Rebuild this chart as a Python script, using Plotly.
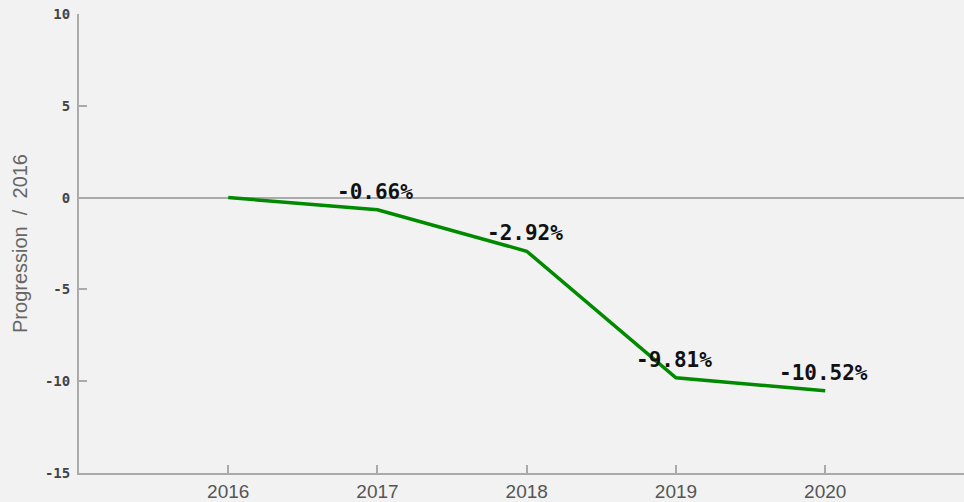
import plotly.graph_objects as go

years = [2016, 2017, 2018, 2019, 2020]
progression = [0.0, -0.66, -2.92, -9.81, -10.52]
labels = ["", "-0.66%", "-2.92%", "-9.81%", "-10.52%"]
y_ticks = [10, 5, 0, -5, -10, -15]
x_ticks = [2016, 2017, 2018, 2019, 2020]

fig = go.Figure()
fig.add_trace(go.Scatter(
    x=years, y=progression, mode="lines",
    line=dict(color="#008a00", width=3.5),
    hoverinfo="skip", showlegend=False,
))

for x, y, t in zip(years, progression, labels):
    if t:
        fig.add_annotation(x=x, y=y, text="<b>" + t + "</b>", showarrow=False,
                           yshift=18, xshift=-2,
                           font=dict(family="DejaVu Sans Mono", size=21, color="#111111"))

fig.update_layout(
    width=964, height=502,
    margin=dict(l=79, r=0, t=14, b=29, autoexpand=False),
    paper_bgcolor="#f2f2f2", plot_bgcolor="#f2f2f2",
    showlegend=False,
    xaxis=dict(
        range=[2015, 2020.93], tickvals=x_ticks, ticktext=[str(v) for v in x_ticks],
        showgrid=False, zeroline=False, showline=True, linecolor="#aaaaaa", linewidth=2,
        ticks="inside", ticklen=8, tickcolor="#aaaaaa", tickwidth=1.5,
        tickfont=dict(family="Liberation Sans", size=19, color="#555555"),
        ticklabeloverflow="allow",
        automargin=False,
    ),
    yaxis=dict(
        range=[-15, 10], tickvals=y_ticks, ticktext=[str(v) for v in y_ticks],
        showgrid=False, zeroline=True, zerolinecolor="#aaaaaa", zerolinewidth=1.5,
        showline=True, linecolor="#aaaaaa", linewidth=2,
        ticks="inside", ticklen=8, tickcolor="#aaaaaa", tickwidth=1.5,
        tickfont=dict(family="DejaVu Sans Mono", size=14, color="#444444", weight="bold"),
        ticklabeloverflow="allow", ticklabelstandoff=4,
        title=dict(text="Progression  /  2016", font=dict(family="Liberation Sans", size=20, color="#666666"), standoff=12),
        automargin=False,
    ),
)

fig.write_html(
    "out.html",
    config={"displayModeBar": False},
    post_script="document.body.style.margin='0';document.body.style.background='#f2f2f2';",
)
